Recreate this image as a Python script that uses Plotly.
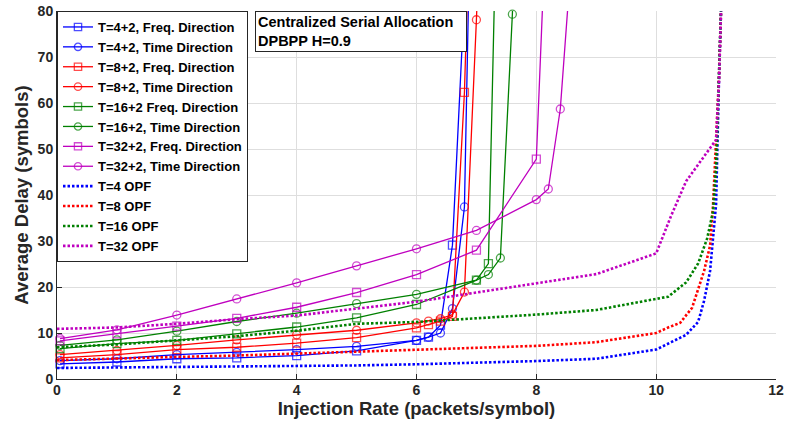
import plotly.graph_objects as go

# ---------------- data ----------------
x_blue_fd = [0.05, 1, 2, 3, 4, 5, 6, 6.2, 6.4, 6.6, 6.8]
y_blue_fd = [3.3, 3.7, 4.4, 4.6, 5.1, 6.1, 8.4, 9.1, 11.7, 29.1, 83]
x_blue_td = [0.05, 1, 2, 3, 4, 5, 6, 6.2, 6.4, 6.6, 6.8, 7.0]
y_blue_td = [4.0, 4.4, 5.3, 5.8, 6.4, 7.1, 8.4, 9.1, 10.0, 15.3, 37.4, 170]

x_red_fd = [0.05, 1, 2, 3, 4, 5, 6, 6.2, 6.4, 6.6, 6.8, 7.0]
y_red_fd = [4.6, 5.3, 6.4, 6.9, 7.8, 9.0, 11.1, 11.8, 12.6, 13.6, 62.3, 150]
x_red_td = [0.05, 1, 2, 3, 4, 5, 6, 6.2, 6.4, 6.6, 6.8, 7.0, 7.2]
y_red_td = [5.3, 6.2, 7.3, 8.5, 9.6, 10.6, 12.2, 12.6, 13.1, 14.0, 18.9, 78.1, 150]

x_green_fd = [0.05, 1, 2, 3, 4, 5, 6, 7, 7.2, 7.4]
y_green_fd = [6.6, 7.7, 8.4, 9.8, 11.3, 13.3, 16.2, 21.5, 25.1, 140]
x_green_td = [0.05, 1, 2, 3, 4, 5, 6, 7, 7.2, 7.4, 7.6, 7.8]
y_green_td = [7.3, 8.5, 10.4, 12.5, 14.3, 16.4, 18.4, 21.5, 22.7, 26.3, 79.3, 150]

x_mag_fd = [0.05, 1, 2, 3, 4, 5, 6, 7, 8, 8.2]
y_mag_fd = [8.3, 9.8, 11.5, 13.2, 15.6, 18.8, 22.7, 28.0, 47.8, 112]
x_mag_td = [0.05, 1, 2, 3, 4, 5, 6, 7, 8, 8.2, 8.4, 8.6]
y_mag_td = [8.8, 10.7, 13.9, 17.4, 20.9, 24.6, 28.3, 32.3, 39.0, 41.3, 58.7, 94]

x_opf4 = [0, 1, 2, 3, 4, 5, 6, 7, 8, 9, 10, 10.25, 10.5, 10.7, 10.8, 10.9, 11.0, 11.05, 11.1]
y_opf4 = [2.4, 2.5, 2.6, 2.7, 2.8, 2.95, 3.2, 3.5, 3.9, 4.4, 6.4, 8.0, 9.6, 12.4, 17.0, 23.5, 38, 66, 88]
x_opf8 = [0, 1, 2, 3, 4, 5, 6, 7, 8, 9, 10, 10.2, 10.4, 10.6, 10.8, 10.9, 10.95, 11.0, 11.05, 11.1]
y_opf8 = [4.1, 4.5, 4.8, 5.1, 5.5, 5.9, 6.3, 6.7, 7.2, 8.0, 10.0, 11.2, 12.2, 15.5, 23.5, 29, 38, 52, 66, 88]
x_opf16 = [0, 1, 2, 3, 4, 5, 6, 7, 8, 9, 10, 10.2, 10.5, 10.7, 10.85, 10.95, 11.0, 11.05, 11.1]
y_opf16 = [6.9, 7.5, 8.4, 9.3, 10.5, 12.0, 12.4, 13.2, 14.0, 15.0, 17.5, 17.9, 21.0, 25.1, 30.5, 36.5, 46, 65, 88]
x_opf32 = [0, 1, 2, 3, 4, 5, 6, 7, 8, 9, 10, 10.25, 10.5, 10.75, 11.0, 11.05, 11.1]
y_opf32 = [10.9, 11.2, 12.0, 13.0, 13.8, 15.3, 16.8, 18.8, 20.8, 22.8, 27.3, 35.5, 43, 47.5, 52, 65, 88]

labels = [
    "T=4+2, Freq. Direction", "T=4+2, Time Direction",
    "T=8+2, Freq. Direction", "T=8+2, Time Direction",
    "T=16+2 Freq. Direction", "T=16+2, Time Direction",
    "T=32+2, Freq. Direction", "T=32+2, Time Direction",
    "T=4 OPF", "T=8 OPF", "T=16 OPF", "T=32 OPF",
]
x_ticks = [0, 2, 4, 6, 8, 10, 12]
y_ticks = [0, 10, 20, 30, 40, 50, 60, 70, 80]

# ---------------- styles ----------------
BLUE, RED, GREEN, MAG = "#0000FF", "#FF0000", "#008000", "#BF00BF"
FONT = "Liberation Sans, Arial, sans-serif"
YMAX = 80

fig = go.Figure()

solid = [
    (x_blue_fd, y_blue_fd, BLUE, "square-open"),
    (x_blue_td, y_blue_td, BLUE, "circle-open"),
    (x_red_fd, y_red_fd, RED, "square-open"),
    (x_red_td, y_red_td, RED, "circle-open"),
    (x_green_fd, y_green_fd, GREEN, "square-open"),
    (x_green_td, y_green_td, GREEN, "circle-open"),
    (x_mag_fd, y_mag_fd, MAG, "square-open"),
    (x_mag_td, y_mag_td, MAG, "circle-open"),
]
for i, (xs, ys, c, sym) in enumerate(solid):
    sizes = [8 if y <= YMAX else 0 for y in ys]
    fig.add_trace(go.Scatter(
        x=xs, y=ys, name=labels[i], mode="lines+markers",
        line=dict(color=c, width=1.3),
        marker=dict(symbol=sym, size=sizes, color=c, line=dict(width=1.3, color=c)),
        cliponaxis=False,
    ))

dotted = [
    (x_opf4, y_opf4, BLUE), (x_opf8, y_opf8, RED),
    (x_opf16, y_opf16, GREEN), (x_opf32, y_opf32, MAG),
]
for j, (xs, ys, c) in enumerate(dotted):
    fig.add_trace(go.Scatter(
        x=xs, y=ys, name=labels[8 + j], mode="lines",
        line=dict(color=c, width=2.6, dash="2.5px,2px"),
    ))

axis_common = dict(
    showgrid=True, gridcolor="#DEDEDE", gridwidth=1,
    showline=True, linecolor="#262626", linewidth=1,
    ticks="inside", ticklen=5, tickcolor="#262626",
    zeroline=False, mirror=False, automargin=False,
    tickfont=dict(family=FONT, size=14, color="#262626", weight="bold"),
)

fig.update_layout(
    width=787, height=424,
    margin=dict(l=57, r=11, t=11, b=45),
    paper_bgcolor="white", plot_bgcolor="white",
    font=dict(family=FONT, color="#262626"),
    xaxis=dict(
        range=[0, 12], tickvals=x_ticks, ticklabelstandoff=-2, **axis_common,
        title=dict(text="Injection Rate (packets/symbol)", standoff=0,
                   font=dict(family=FONT, size=18.5, color="#262626", weight="bold")),
    ),
    yaxis=dict(
        range=[0, 80], tickvals=y_ticks, **axis_common,
        title=dict(text="Average Delay (symbols)", standoff=4,
                   font=dict(family=FONT, size=18.5, color="#262626", weight="bold")),
    ),
    legend=dict(
        x=0, y=1, xanchor="left", yanchor="top",
        bgcolor="white", bordercolor="#262626", borderwidth=1,
        font=dict(family=FONT, size=13, color="black", weight="bold"),
        itemwidth=30, tracegroupgap=0,
    ),
    showlegend=True,
    annotations=[dict(
        xref="paper", yref="paper", x=0.276, y=1, xanchor="left", yanchor="top",
        text="<b>Centralized Serial Allocation<br>DPBPP H=0.9</b>",
        showarrow=False, align="left", width=206,
        font=dict(family=FONT, size=14.5, color="black"),
        bgcolor="white", bordercolor="#262626", borderwidth=1, borderpad=2,
    )],
)

# remove the browser's default page margin so the figure sits at the window's corner
fig.write_html("out.html", config={"displayModeBar": False},
               post_script="document.body.style.margin='0';")
